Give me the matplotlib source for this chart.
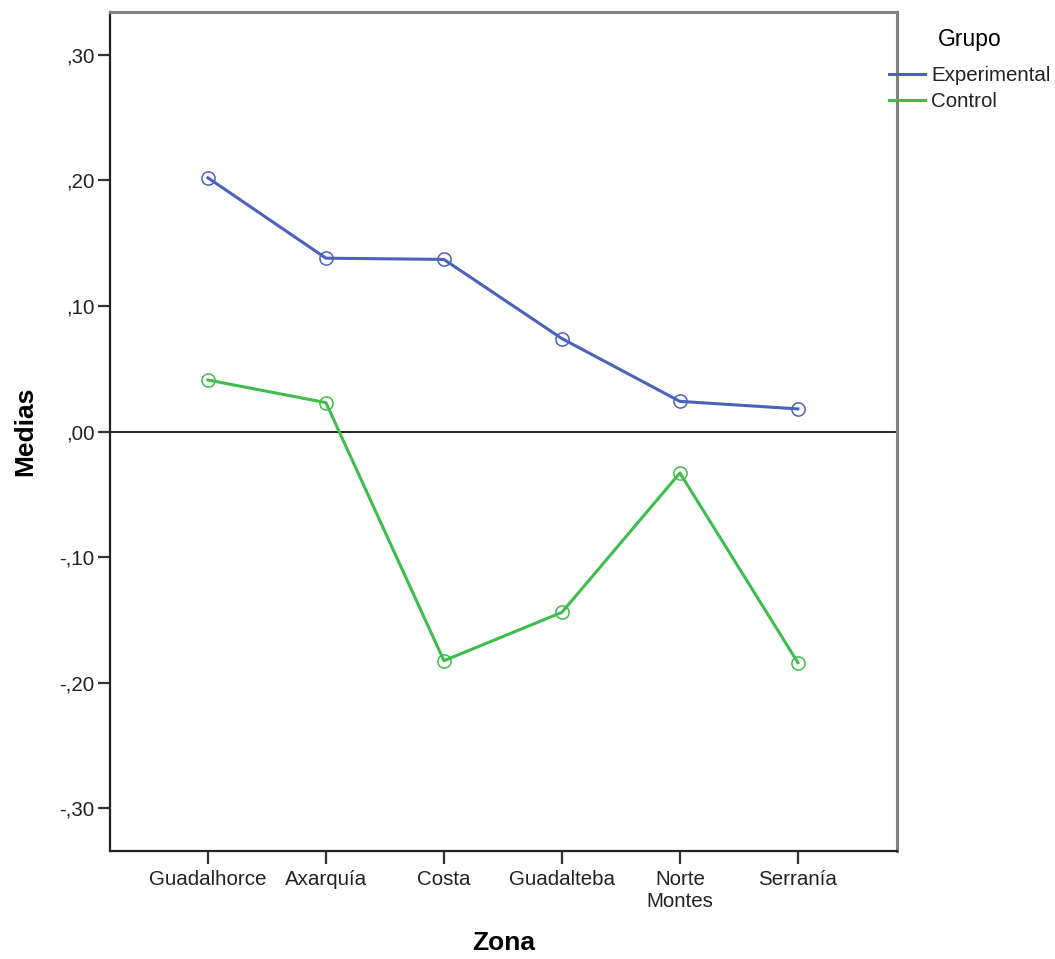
import numpy as np
import matplotlib
matplotlib.use("Agg")
import matplotlib.pyplot as plt

plt.rcParams['font.family'] = ['Liberation Sans', 'DejaVu Sans']

# data
zonas = ["Guadalhorce", "Axarquía", "Costa", "Guadalteba", "Norte\nMontes", "Serranía"]
experimental = [0.202, 0.138, 0.137, 0.074, 0.024, 0.018]
control = [0.041, 0.023, -0.1825, -0.144, -0.033, -0.184]
yticks = [-0.30, -0.20, -0.10, 0.00, 0.10, 0.20, 0.30]
ytick_labels = ["-,30", "-,20", "-,10", ",00", ",10", ",20", ",30"]

col_exp = "#4a62bd"
col_ctl = "#3dbd4b"

W, H = 1055, 959
fig = plt.figure(figsize=(W / 100, H / 100), dpi=100)
ax = fig.add_axes([110 / W, 1 - 851 / H, (897 - 110) / W, (851 - 12) / H])

x = np.arange(len(zonas))
ax.plot(x, experimental, color=col_exp, lw=2.2, marker="o", ms=9.5,
        mfc="none", mec=col_exp, mew=1.1, label="Experimental", zorder=3)
ax.plot(x, control, color=col_ctl, lw=2.2, marker="o", ms=9.5,
        mfc="none", mec=col_ctl, mew=1.1, label="Control", zorder=3)
ax.axhline(0, color="black", lw=1.2, zorder=2)

ax.set_xlim(-0.83, 5.84)
ax.set_ylim(-0.334, 0.334)
ax.set_xticks(x)
ax.set_xticklabels(zonas, fontsize=14.8, color="#222222", linespacing=1.15)
ax.set_yticks(yticks)
ax.set_yticklabels(ytick_labels, fontsize=14.8, color="#222222")
ax.tick_params(axis="x", length=9, width=1.6, color="#333333", pad=5)
ax.tick_params(axis="y", length=9, width=1.6, color="#333333", pad=2)

for s in ["left", "bottom"]:
    ax.spines[s].set_color("#222222")
    ax.spines[s].set_linewidth(1.6)
for s in ["top", "right"]:
    ax.spines[s].set_color("#808080")
    ax.spines[s].set_linewidth(2.2)

ax.set_ylabel("Medias", fontsize=19, fontweight="bold", va="center")
ax.yaxis.set_label_coords(-(110 - 25) / (897 - 110), 0.5)
ax.set_xlabel("Zona", fontsize=19, fontweight="bold", va="center")
ax.xaxis.set_label_coords(0.5, -(943 - 851) / (851 - 12))

leg = ax.legend(loc="upper left", bbox_to_anchor=(889 / W, 1 - 28 / H),
                bbox_transform=fig.transFigure, frameon=False, title="Grupo",
                fontsize=14.8, title_fontsize=16.5, handlelength=1.75,
                handletextpad=0.3, labelspacing=0.35, borderpad=0,
                borderaxespad=0)
leg._legend_box.sep = 11
for t in leg.get_texts():
    t.set_color("#222222")
for h in leg.legend_handles:
    h.set_marker("")
    h.set_linewidth(2.2)

fig.savefig("out.png", dpi=100)
